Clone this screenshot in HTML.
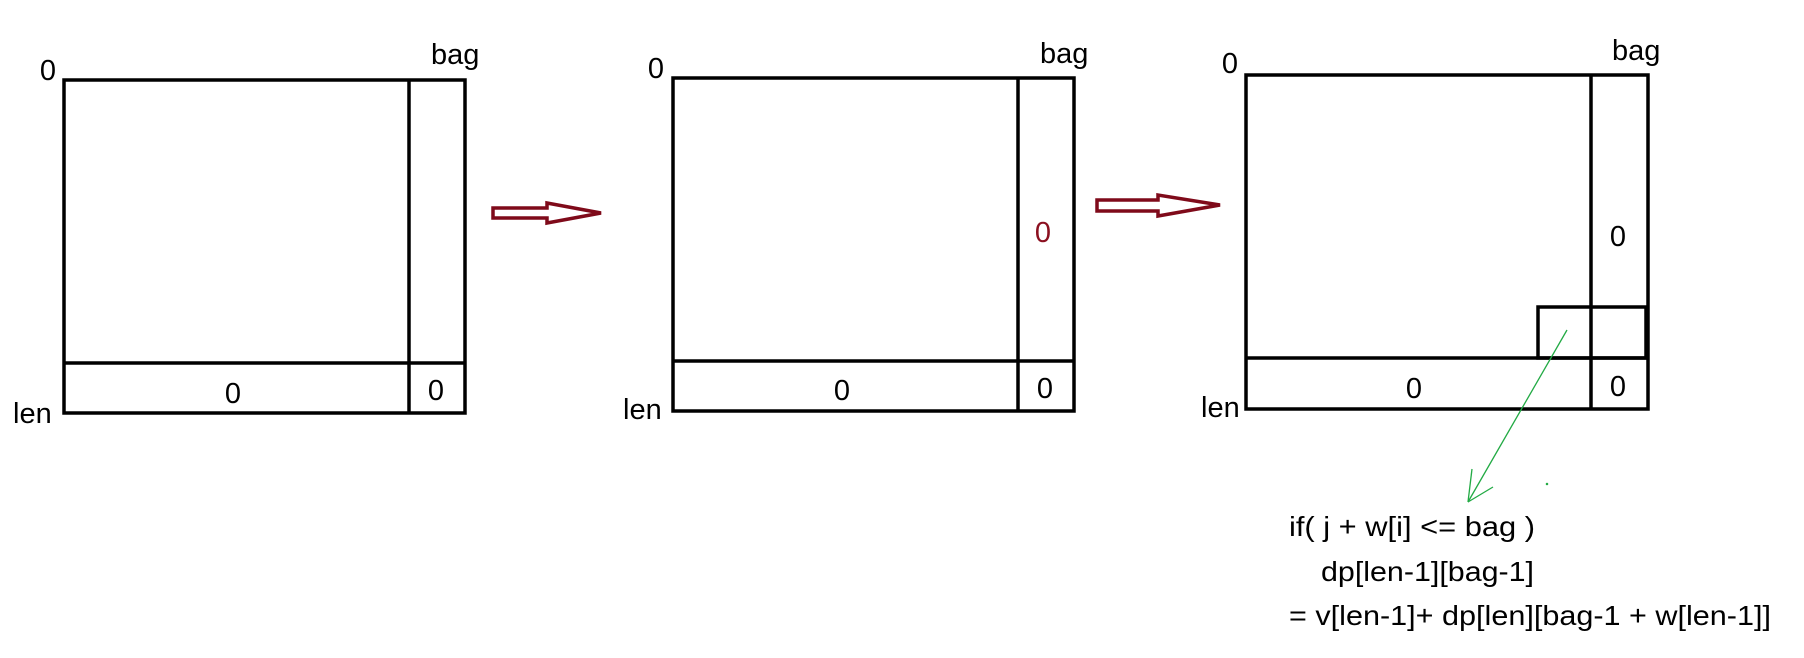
<!DOCTYPE html>
<html><head><meta charset="utf-8"><style>
html,body{margin:0;padding:0;background:#fff;}
svg{display:block;}
text{font-family:"Liberation Sans",sans-serif;font-size:29px;fill:#000;}
.f{font-size:28px;}
</style></head><body>
<svg width="1804" height="658" viewBox="0 0 1804 658">
<g fill="none" stroke="#000" stroke-width="3.5">
  <g>
    <rect x="64" y="80" width="401" height="333"/>
    <line x1="409" y1="80" x2="409" y2="413"/>
    <line x1="64" y1="363" x2="465" y2="363"/>
  </g>
  <g>
    <rect x="673" y="78" width="401" height="333"/>
    <line x1="1018" y1="78" x2="1018" y2="411"/>
    <line x1="673" y1="361" x2="1074" y2="361"/>
  </g>
  <g>
    <rect x="1246" y="75" width="402" height="334"/>
    <line x1="1591" y1="75" x2="1591" y2="409"/>
    <line x1="1246" y1="358" x2="1648" y2="358"/>
    <rect x="1538" y="307" width="108" height="51"/>
  </g>
</g>
<g fill="#fff" stroke="#7f0a1a" stroke-width="3.5">
  <polygon points="493,208 547,208 547,203 601,213 547,223 547,218 493,218"/>
  <polygon points="1097,200 1158,200 1158,195 1220,205 1158,216 1158,211 1097,211"/>
</g>
<g stroke="#22aa44" stroke-width="1.3" fill="none">
  <line x1="1567" y1="330" x2="1468" y2="502"/>
  <line x1="1472" y1="469" x2="1468" y2="502"/>
  <line x1="1493" y1="487" x2="1468" y2="502"/>
  <circle cx="1547" cy="484" r="0.6" fill="#22aa44"/>
</g>
<g>
  <text x="48" y="80" text-anchor="middle">0</text>
  <text x="431" y="64">bag</text>
  <text x="13" y="423">len</text>
  <text x="233" y="403" text-anchor="middle">0</text>
  <text x="436" y="400" text-anchor="middle">0</text>

  <text x="656" y="78" text-anchor="middle">0</text>
  <text x="1040" y="63">bag</text>
  <text x="623" y="419">len</text>
  <text x="842" y="400" text-anchor="middle">0</text>
  <text x="1045" y="398" text-anchor="middle">0</text>
  <text x="1043" y="242" text-anchor="middle" style="fill:#8b1020">0</text>

  <text x="1230" y="73" text-anchor="middle">0</text>
  <text x="1612" y="60">bag</text>
  <text x="1201" y="417">len</text>
  <text x="1414" y="398" text-anchor="middle">0</text>
  <text x="1618" y="396" text-anchor="middle">0</text>
  <text x="1618" y="246" text-anchor="middle">0</text>
</g>
<g>
  <text class="f" x="1289" y="536" textLength="246" lengthAdjust="spacingAndGlyphs">if( j + w[i] &lt;= bag )</text>
  <text class="f" x="1321" y="581" textLength="213" lengthAdjust="spacingAndGlyphs">dp[len-1][bag-1]</text>
  <text class="f" x="1289" y="625" textLength="482" lengthAdjust="spacingAndGlyphs">= v[len-1]+ dp[len][bag-1 + w[len-1]]</text>
</g>
</svg>
</body></html>
